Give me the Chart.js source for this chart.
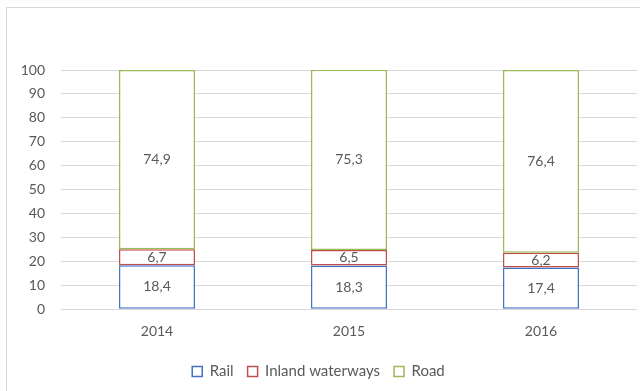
<!DOCTYPE html>
<html>
<head>
<meta charset="utf-8">
<script src="https://cdn.jsdelivr.net/npm/chart.js@4"></script>
<style>
  body { margin: 0; background: #fff; }
  #frame { position: absolute; left: 6px; top: 7px; width: 700px; height: 400px; border: 1px solid #d9d9d9; }
  #wrap { position: absolute; left: 0; top: 0; width: 640px; height: 391px; }
</style>
</head>
<body>
<div id="frame"></div>
<div id="wrap"><canvas id="myChart" width="640" height="391"></canvas></div>
<script>
const years = ['2014', '2015', '2016'];
const rail = [18.4, 18.3, 17.4];
const inland = [6.7, 6.5, 6.2];
const road = [74.9, 75.3, 76.4];

const textColor = '#595959';
const fontFamily = 'Lato, "Open Sans", sans-serif';

// draw the value in the middle of each bar segment
const valueLabels = {
    id: 'valueLabels',
    afterDatasetsDraw(chart) {
        const ctx = chart.ctx;
        ctx.save();
        ctx.font = '14px ' + fontFamily;
        ctx.fillStyle = textColor;
        ctx.textAlign = 'center';
        ctx.textBaseline = 'middle';
        chart.data.datasets.forEach((ds, i) => {
            chart.getDatasetMeta(i).data.forEach((bar, j) => {
                const y = (bar.y + bar.base) / 2;
                ctx.fillText(ds.data[j].toFixed(1).replace('.', ','), bar.x, y);
            });
        });
        ctx.restore();
    }
};

var ctx = document.getElementById('myChart').getContext('2d');
var myChart = new Chart(ctx, { //eslint-disable-line
    type: 'bar',
    data: {
        labels: years,
        datasets: [{
            label: 'Rail',
            data: rail,
            backgroundColor: '#ffffff',
            borderColor: '#4472C4',
            borderWidth: 1.5
        },
        {
            label: 'Inland waterways',
            data: inland,
            backgroundColor: '#ffffff',
            borderColor: '#C0504D',
            borderWidth: 1.5
        },
        {
            label: 'Road',
            data: road,
            backgroundColor: '#ffffff',
            borderColor: '#9BBB59',
            borderWidth: 1.5
        }]
    },
    options: {
        responsive: false,
        animation: false,
        layout: { padding: { top: 70, right: 3, bottom: 2 } },
        datasets: {
            bar: {
                categoryPercentage: 1,
                barPercentage: 0.396,
                borderSkipped: false
            }
        },
        scales: {
            x: {
                stacked: true,
                grid: { display: false },
                border: { display: false },
                ticks: { color: textColor, font: { family: fontFamily, size: 14 }, padding: 6 },
                afterFit(scale) { scale.height += 4; }
            },
            y: {
                stacked: true,
                min: 0,
                max: 100,
                grid: { color: '#d9d9d9', drawTicks: false },
                border: { display: false },
                ticks: { stepSize: 10, color: textColor, font: { family: fontFamily, size: 14 }, padding: 16 },
                afterFit(scale) { scale.width = 61; }
            }
        },
        plugins: {
            legend: {
                position: 'bottom',
                labels: {
                    color: textColor,
                    font: { family: fontFamily, size: 15 },
                    boxWidth: 10,
                    boxHeight: 10,
                    padding: 14
                }
            },
            tooltip: { enabled: false }
        }
    },
    plugins: [valueLabels]
});
</script>
</body>
</html>
